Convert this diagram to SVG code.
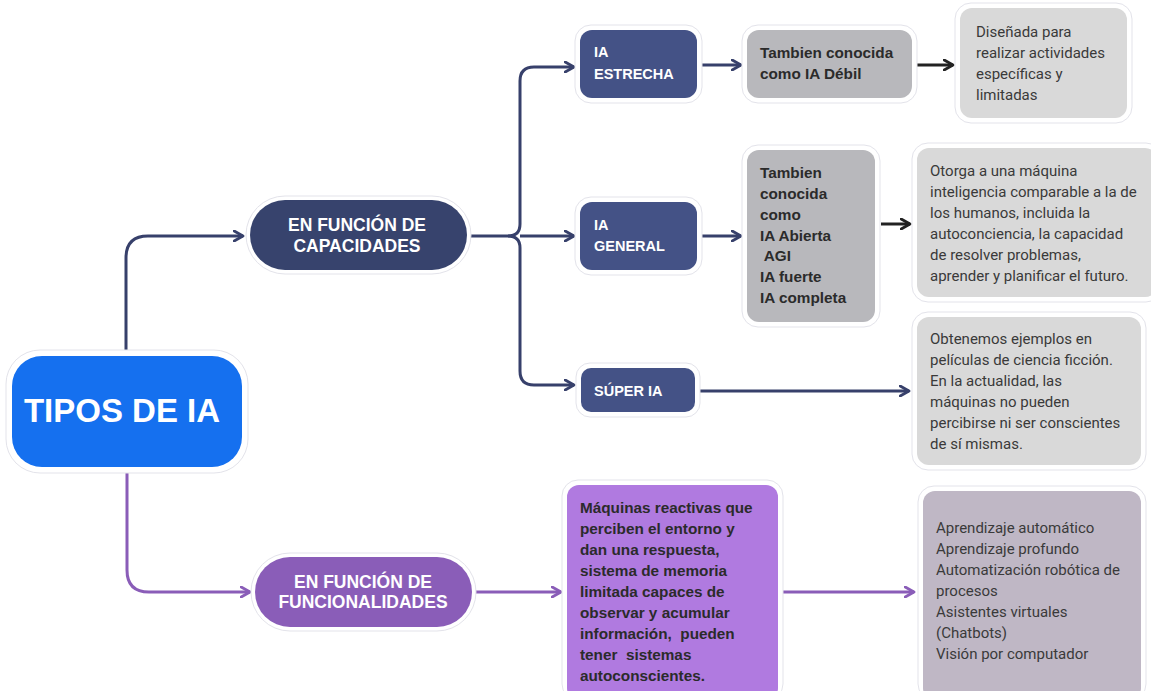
<svg xmlns="http://www.w3.org/2000/svg" width="1151" height="691" viewBox="0 0 1151 691">
<defs>
<marker id="ahN" viewBox="0 0 10 10" refX="8" refY="5" markerWidth="4.2" markerHeight="4.2" orient="auto" markerUnits="strokeWidth"><path d="M1,1 L8,5 L1,9" fill="none" stroke="#37406b" stroke-width="2.2" stroke-linecap="round" stroke-linejoin="round"/></marker>
<marker id="ahP" viewBox="0 0 10 10" refX="8" refY="5" markerWidth="4.2" markerHeight="4.2" orient="auto" markerUnits="strokeWidth"><path d="M1,1 L8,5 L1,9" fill="none" stroke="#8a5db8" stroke-width="2.2" stroke-linecap="round" stroke-linejoin="round"/></marker>
<marker id="ahK" viewBox="0 0 10 10" refX="8" refY="5" markerWidth="4.2" markerHeight="4.2" orient="auto" markerUnits="strokeWidth"><path d="M1,1 L8,5 L1,9" fill="none" stroke="#222" stroke-width="2.2" stroke-linecap="round" stroke-linejoin="round"/></marker>
</defs>
<style>
.halo{fill:#fff;stroke:#e3e3ea;stroke-width:1}
.navy{fill:none;stroke:#37406b;stroke-width:3}
.purp{fill:none;stroke:#8a5db8;stroke-width:3}
.blk{fill:none;stroke:#222;stroke-width:3}
.tw{font-family:"Liberation Sans",Arial,sans-serif;font-weight:bold;fill:#fff}
.tb{font-family:"Liberation Sans",Arial,sans-serif;font-weight:bold;fill:#2b2b2b;font-size:15.3px;white-space:pre}
.tr{font-family:Roboto,"Liberation Sans",sans-serif;fill:#3a3a3a;font-size:15px}
</style>
<rect width="1151" height="691" fill="#fff"/>
<g id="connectors">
<path class="navy" d="M126,355 V258 Q126,236 148,236 H243" marker-end="url(#ahN)"/>
<path class="purp" d="M127,468 V570 Q127,592 149,592 H250" marker-end="url(#ahP)"/>
<path class="navy" d="M467,236 H508 Q520,236 520,224 V81 Q520,67 534,67 H574" marker-end="url(#ahN)"/>
<path class="navy" d="M508,236 Q520,236 520,248 V371 Q520,385 534,385 H574" marker-end="url(#ahN)"/>
<path class="navy" d="M520,236 H574" marker-end="url(#ahN)"/>
<path class="navy" d="M701,65 H741" marker-end="url(#ahN)"/>
<path class="navy" d="M701,236 H741" marker-end="url(#ahN)"/>
<path class="navy" d="M700,391 H909" marker-end="url(#ahN)"/>
<path class="blk" d="M916,65 H953" marker-end="url(#ahK)"/>
<path class="blk" d="M881,224 H910" marker-end="url(#ahK)"/>
<path class="purp" d="M473,592 H561" marker-end="url(#ahP)"/>
<path class="purp" d="M783,592 H914" marker-end="url(#ahP)"/>
</g>
<g id="tipos">
<rect class="halo" x="6" y="350" width="242" height="123" rx="34"/>
<rect x="12" y="356" width="230" height="111" rx="30" fill="#1570ef"/>
<text class="tw" x="122" y="422" font-size="33" text-anchor="middle">TIPOS DE IA</text>
</g>
<g id="capacidades">
<rect class="halo" x="246" y="196" width="225" height="78" rx="39"/>
<rect x="250" y="200" width="217" height="70" rx="35" fill="#37436d"/>
<text class="tw" font-size="17.5" text-anchor="middle"><tspan x="357" y="231">EN FUNCIÓN DE</tspan><tspan x="357" y="252">CAPACIDADES</tspan></text>
</g>
<g id="funcionalidades">
<rect class="halo" x="251" y="553" width="225" height="78" rx="39"/>
<rect x="255" y="557" width="217" height="70" rx="35" fill="#8a5db8"/>
<text class="tw" font-size="17.5" text-anchor="middle"><tspan x="363" y="588">EN FUNCIÓN DE</tspan><tspan x="363" y="608">FUNCIONALIDADES</tspan></text>
</g>
<g id="estrecha">
<rect class="halo" x="575" y="25" width="127" height="78" rx="16"/>
<rect x="580" y="30" width="117" height="68" rx="12" fill="#445286"/>
<text class="tw" font-size="14.5"><tspan x="594" y="57">IA</tspan><tspan x="594" y="79">ESTRECHA</tspan></text>
</g>
<g id="general">
<rect class="halo" x="575" y="197" width="127" height="78" rx="16"/>
<rect x="580" y="202" width="117" height="68" rx="12" fill="#445286"/>
<text class="tw" font-size="14.5"><tspan x="594" y="230">IA</tspan><tspan x="594" y="251">GENERAL</tspan></text>
</g>
<g id="super">
<rect class="halo" x="576" y="363" width="124" height="54" rx="14"/>
<rect x="581" y="368" width="114" height="44" rx="10" fill="#445286"/>
<text class="tw" font-size="14.5" x="594" y="396">SÚPER IA</text>
</g>
<g id="debil">
<rect class="halo" x="742" y="25" width="175" height="78" rx="16"/>
<rect x="747" y="30" width="165" height="68" rx="12" fill="#b8b8bc"/>
<text class="tb"><tspan x="760" y="58">Tambien conocida</tspan><tspan x="760" y="79">como IA Débil</tspan></text>
</g>
<g id="aka">
<rect class="halo" x="742" y="145" width="138" height="182" rx="16"/>
<rect x="747" y="150" width="128" height="172" rx="12" fill="#b8b8bc"/>
<text class="tb"><tspan x="760" y="178">Tambien</tspan><tspan x="760" y="199">conocida</tspan><tspan x="760" y="220">como</tspan><tspan x="760" y="241">IA Abierta</tspan><tspan x="760" y="261"> AGI</tspan><tspan x="760" y="282">IA fuerte</tspan><tspan x="760" y="303">IA completa</tspan></text>
</g>
<g id="disenada">
<rect class="halo" x="955" y="3" width="177" height="120" rx="16"/>
<rect x="960" y="8" width="167" height="110" rx="12" fill="#d9d9d9"/>
<text class="tr"><tspan x="976" y="37">Diseñada para</tspan><tspan x="976" y="58">realizar actividades</tspan><tspan x="976" y="79">específicas y</tspan><tspan x="976" y="100">limitadas</tspan></text>
</g>
<g id="otorga">
<rect class="halo" x="912" y="143" width="250" height="159" rx="16"/>
<rect x="917" y="148" width="240" height="149" rx="12" fill="#d9d9d9"/>
<text class="tr"><tspan x="930" y="176">Otorga a una máquina</tspan><tspan x="930" y="197">inteligencia comparable a la de</tspan><tspan x="930" y="218">los humanos, incluida la</tspan><tspan x="930" y="239">autoconciencia, la capacidad</tspan><tspan x="930" y="260">de resolver problemas,</tspan><tspan x="930" y="281">aprender y planificar el futuro.</tspan></text>
</g>
<g id="obtenemos">
<rect class="halo" x="912" y="312" width="234" height="158" rx="16"/>
<rect x="917" y="317" width="224" height="148" rx="12" fill="#d9d9d9"/>
<text class="tr"><tspan x="930" y="344">Obtenemos ejemplos en</tspan><tspan x="930" y="365">películas de ciencia ficción.</tspan><tspan x="930" y="386">En la actualidad, las</tspan><tspan x="930" y="407">máquinas no pueden</tspan><tspan x="930" y="428">percibirse ni ser conscientes</tspan><tspan x="930" y="449">de sí mismas.</tspan></text>
</g>
<g id="maquinas">
<rect class="halo" x="562" y="480" width="221" height="220" rx="16"/>
<rect x="567" y="485" width="211" height="215" rx="12" fill="#b07ae0"/>
<text class="tb"><tspan x="580" y="513">Máquinas reactivas que</tspan><tspan x="580" y="534">perciben el entorno y</tspan><tspan x="580" y="555">dan una respuesta,</tspan><tspan x="580" y="576">sistema de memoria</tspan><tspan x="580" y="597">limitada capaces de</tspan><tspan x="580" y="618">observar y acumular</tspan><tspan x="580" y="639">información,  pueden</tspan><tspan x="580" y="660">tener  sistemas</tspan><tspan x="580" y="681">autoconscientes.</tspan></text>
</g>
<g id="aplicaciones">
<rect class="halo" x="918" y="486" width="228" height="214" rx="16"/>
<rect x="923" y="491" width="218" height="209" rx="12" fill="#bfb7c5"/>
<text class="tr"><tspan x="936" y="533">Aprendizaje automático</tspan><tspan x="936" y="554">Aprendizaje profundo</tspan><tspan x="936" y="575">Automatización robótica de</tspan><tspan x="936" y="596">procesos</tspan><tspan x="936" y="617">Asistentes virtuales</tspan><tspan x="936" y="638">(Chatbots)</tspan><tspan x="936" y="659">Visión por computador</tspan></text>
</g>
</svg>
